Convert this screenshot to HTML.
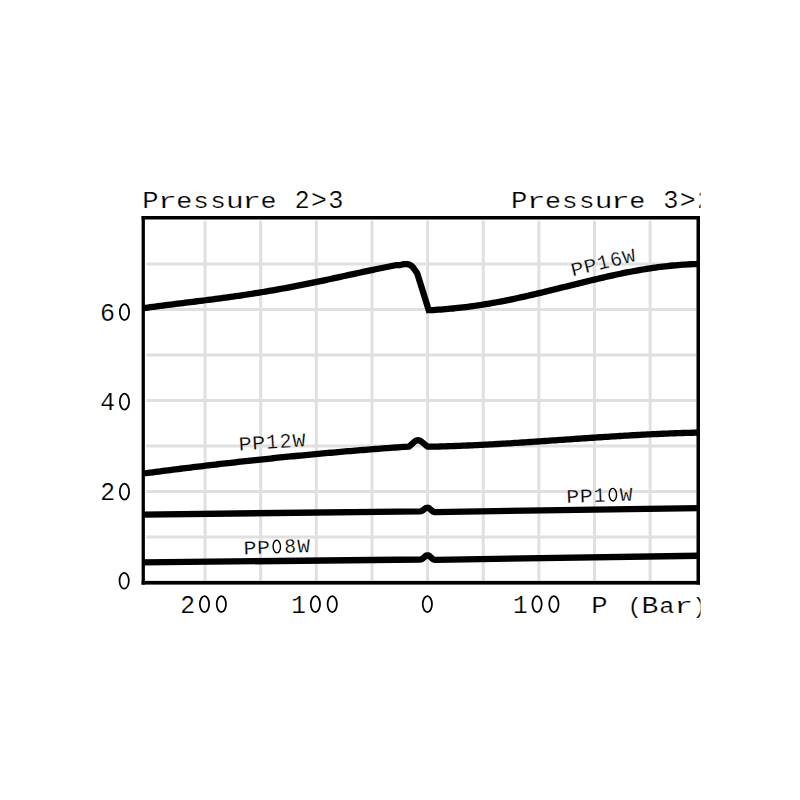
<!DOCTYPE html>
<html><head><meta charset="utf-8"><style>
html,body{margin:0;padding:0;background:#fff;width:800px;height:800px;overflow:hidden}
svg{display:block}
text{font-family:"Liberation Mono",monospace;fill:#000;stroke:#fff;stroke-width:0.25px;white-space:pre}
</style></head><body>
<svg width="800" height="800" viewBox="0 0 800 800">
<defs>
<clipPath id="clipR"><rect x="0" y="0" width="700.5" height="800"/></clipPath>
<clipPath id="clipF"><rect x="143.25" y="217.75" width="555.00" height="364.90"/></clipPath>
</defs>
<rect width="800" height="800" fill="#fff"/>
<g stroke="#e0e0e0" stroke-width="3">
<line x1="205.04" y1="220.75" x2="205.04" y2="580.65"/>
<line x1="260.68" y1="220.75" x2="260.68" y2="580.65"/>
<line x1="316.31" y1="220.75" x2="316.31" y2="580.65"/>
<line x1="371.95" y1="220.75" x2="371.95" y2="580.65"/>
<line x1="427.59" y1="220.75" x2="427.59" y2="580.65"/>
<line x1="483.23" y1="220.75" x2="483.23" y2="580.65"/>
<line x1="538.86" y1="220.75" x2="538.86" y2="580.65"/>
<line x1="594.50" y1="220.75" x2="594.50" y2="580.65"/>
<line x1="650.14" y1="220.75" x2="650.14" y2="580.65"/>
<line x1="146.25" y1="264.00" x2="696.25" y2="264.00"/>
<line x1="146.25" y1="309.48" x2="696.25" y2="309.48"/>
<line x1="146.25" y1="354.96" x2="696.25" y2="354.96"/>
<line x1="146.25" y1="400.44" x2="696.25" y2="400.44"/>
<line x1="146.25" y1="445.92" x2="696.25" y2="445.92"/>
<line x1="146.25" y1="491.40" x2="696.25" y2="491.40"/>
<line x1="146.25" y1="536.88" x2="696.25" y2="536.88"/>
</g>
<g clip-path="url(#clipF)" fill="none" stroke="#000" stroke-width="6.3" stroke-linejoin="round">
<path d="M138.00,309.00 L140.50,308.63 L143.00,308.26 L145.50,307.90 L148.00,307.55 L150.50,307.20 L153.00,306.86 L155.50,306.52 L158.00,306.19 L160.50,305.86 L163.00,305.54 L165.50,305.22 L168.00,304.90 L170.50,304.58 L173.00,304.27 L175.50,303.96 L178.00,303.65 L180.50,303.34 L183.00,303.04 L185.50,302.73 L188.00,302.42 L190.50,302.12 L193.00,301.81 L195.50,301.50 L198.00,301.19 L200.50,300.88 L203.00,300.57 L205.50,300.25 L208.00,299.94 L210.50,299.62 L213.00,299.29 L215.50,298.97 L218.00,298.64 L220.50,298.31 L223.00,297.97 L225.50,297.63 L228.00,297.29 L230.50,296.94 L233.00,296.59 L235.50,296.23 L238.00,295.87 L240.50,295.51 L243.00,295.14 L245.50,294.76 L248.00,294.38 L250.50,293.99 L253.00,293.60 L255.50,293.21 L258.00,292.81 L260.50,292.40 L263.00,291.99 L265.50,291.57 L268.00,291.15 L270.50,290.72 L273.00,290.29 L275.50,289.85 L278.00,289.40 L280.50,288.95 L283.00,288.50 L285.50,288.04 L288.00,287.57 L290.50,287.10 L293.00,286.63 L295.50,286.15 L298.00,285.66 L300.50,285.17 L303.00,284.68 L305.50,284.18 L308.00,283.67 L310.50,283.17 L313.00,282.65 L315.50,282.14 L318.00,281.62 L320.50,281.10 L323.00,280.57 L325.50,280.05 L328.00,279.51 L330.50,278.98 L333.00,278.45 L335.50,277.91 L338.00,277.37 L340.50,276.83 L343.00,276.29 L345.50,275.74 L348.00,275.20 L350.50,274.66 L353.00,274.11 L355.50,273.57 L358.00,273.03 L360.50,272.49 L363.00,271.95 L365.50,271.41 L368.00,270.88 L370.50,270.34 L373.00,269.81 L375.50,269.29 L378.00,268.77 L380.50,268.25 L383.00,267.74 L385.50,267.23 L388.00,266.73 L390.50,266.23 L393.00,265.75 L395.50,265.26 L396.00,265.17 L396.46,265.15 L397.06,265.14 L397.75,265.13 L398.50,265.11 L399.26,265.07 L400.00,265.00 L400.73,264.88 L401.50,264.71 L402.28,264.53 L403.06,264.35 L403.80,264.19 L404.50,264.10 L405.15,264.06 L405.78,264.06 L406.38,264.08 L406.94,264.13 L407.49,264.21 L408.00,264.30 L408.47,264.41 L408.91,264.53 L409.31,264.68 L409.70,264.86 L410.09,265.06 L410.50,265.30 L410.92,265.57 L411.34,265.88 L411.76,266.21 L412.18,266.58 L412.59,266.97 L413.00,267.40 L413.39,267.86 L413.78,268.36 L414.16,268.89 L414.54,269.44 L414.92,270.01 L415.30,270.60 L415.67,271.13 L416.03,271.59 L416.38,272.06 L416.75,272.65 L417.15,273.43 L417.60,274.50 L428.70,310.00 L433.00,310.03 L435.50,309.88 L438.00,309.72 L440.50,309.55 L443.00,309.36 L445.50,309.16 L448.00,308.95 L450.50,308.73 L453.00,308.49 L455.50,308.24 L458.00,307.97 L460.50,307.69 L463.00,307.40 L465.50,307.10 L468.00,306.78 L470.50,306.45 L473.00,306.11 L475.50,305.75 L478.00,305.39 L480.50,305.01 L483.00,304.62 L485.50,304.21 L488.00,303.80 L490.50,303.37 L493.00,302.93 L495.50,302.48 L498.00,302.02 L500.50,301.55 L503.00,301.07 L505.50,300.58 L508.00,300.08 L510.50,299.57 L513.00,299.05 L515.50,298.52 L518.00,297.98 L520.50,297.44 L523.00,296.88 L525.50,296.32 L528.00,295.76 L530.50,295.18 L533.00,294.61 L535.50,294.02 L538.00,293.43 L540.50,292.83 L543.00,292.23 L545.50,291.63 L548.00,291.02 L550.50,290.41 L553.00,289.79 L555.50,289.17 L558.00,288.55 L560.50,287.93 L563.00,287.31 L565.50,286.69 L568.00,286.07 L570.50,285.44 L573.00,284.82 L575.50,284.20 L578.00,283.58 L580.50,282.96 L583.00,282.35 L585.50,281.73 L588.00,281.12 L590.50,280.52 L593.00,279.92 L595.50,279.32 L598.00,278.73 L600.50,278.15 L603.00,277.57 L605.50,277.00 L608.00,276.43 L610.50,275.87 L613.00,275.32 L615.50,274.78 L618.00,274.25 L620.50,273.72 L623.00,273.21 L625.50,272.70 L628.00,272.21 L630.50,271.73 L633.00,271.25 L635.50,270.79 L638.00,270.35 L640.50,269.91 L643.00,269.49 L645.50,269.07 L648.00,268.68 L650.50,268.29 L653.00,267.92 L655.50,267.57 L658.00,267.23 L660.50,266.90 L663.00,266.59 L665.50,266.30 L668.00,266.02 L670.50,265.75 L673.00,265.51 L675.50,265.28 L678.00,265.06 L680.50,264.86 L683.00,264.68 L685.50,264.52 L688.00,264.37 L690.50,264.25 L693.00,264.14 L695.50,264.04 L698.00,263.97 L700.50,263.91 L702.00,263.88" stroke-linejoin="miter"/>
<path d="M138.00,474.26 L140.50,473.92 L143.00,473.59 L145.50,473.25 L148.00,472.92 L150.50,472.59 L153.00,472.26 L155.50,471.94 L158.00,471.61 L160.50,471.29 L163.00,470.96 L165.50,470.64 L168.00,470.32 L170.50,470.01 L173.00,469.69 L175.50,469.37 L178.00,469.06 L180.50,468.75 L183.00,468.44 L185.50,468.13 L188.00,467.82 L190.50,467.51 L193.00,467.21 L195.50,466.91 L198.00,466.61 L200.50,466.31 L203.00,466.01 L205.50,465.71 L208.00,465.41 L210.50,465.12 L213.00,464.83 L215.50,464.54 L218.00,464.25 L220.50,463.96 L223.00,463.67 L225.50,463.39 L228.00,463.10 L230.50,462.82 L233.00,462.54 L235.50,462.26 L238.00,461.98 L240.50,461.71 L243.00,461.43 L245.50,461.16 L248.00,460.89 L250.50,460.61 L253.00,460.35 L255.50,460.08 L258.00,459.81 L260.50,459.55 L263.00,459.29 L265.50,459.02 L268.00,458.76 L270.50,458.51 L273.00,458.25 L275.50,457.99 L278.00,457.74 L280.50,457.49 L283.00,457.24 L285.50,456.99 L288.00,456.74 L290.50,456.49 L293.00,456.25 L295.50,456.00 L298.00,455.76 L300.50,455.52 L303.00,455.28 L305.50,455.04 L308.00,454.81 L310.50,454.57 L313.00,454.34 L315.50,454.11 L318.00,453.88 L320.50,453.65 L323.00,453.42 L325.50,453.20 L328.00,452.97 L330.50,452.75 L333.00,452.53 L335.50,452.31 L338.00,452.09 L340.50,451.88 L343.00,451.66 L345.50,451.45 L348.00,451.23 L350.50,451.02 L353.00,450.81 L355.50,450.61 L358.00,450.40 L360.50,450.20 L363.00,449.99 L365.50,449.79 L368.00,449.59 L370.50,449.39 L373.00,449.19 L375.50,449.00 L378.00,448.80 L380.50,448.61 L383.00,448.42 L385.50,448.23 L388.00,448.04 L390.50,447.86 L393.00,447.67 L395.50,447.49 L398.00,447.30 L400.50,447.12 L403.00,446.94 L405.50,446.77 L408.00,446.59 L409.00,446.52 L414.52,441.66 L415.22,441.14 L415.91,440.74 L416.61,440.46 L417.31,440.29 L418.00,440.23 L418.70,440.29 L419.39,440.46 L420.09,440.74 L420.78,441.14 L421.48,441.66 L427.50,446.60 L430.00,446.71 L432.50,446.66 L435.00,446.60 L437.50,446.54 L440.00,446.48 L442.50,446.41 L445.00,446.34 L447.50,446.26 L450.00,446.18 L452.50,446.10 L455.00,446.01 L457.50,445.92 L460.00,445.82 L462.50,445.72 L465.00,445.62 L467.50,445.51 L470.00,445.40 L472.50,445.29 L475.00,445.17 L477.50,445.05 L480.00,444.93 L482.50,444.81 L485.00,444.68 L487.50,444.55 L490.00,444.42 L492.50,444.28 L495.00,444.14 L497.50,444.00 L500.00,443.86 L502.50,443.71 L505.00,443.57 L507.50,443.42 L510.00,443.27 L512.50,443.11 L515.00,442.96 L517.50,442.80 L520.00,442.65 L522.50,442.49 L525.00,442.32 L527.50,442.16 L530.00,442.00 L532.50,441.83 L535.00,441.67 L537.50,441.50 L540.00,441.33 L542.50,441.17 L545.00,441.00 L547.50,440.83 L550.00,440.66 L552.50,440.48 L555.00,440.31 L557.50,440.14 L560.00,439.97 L562.50,439.80 L565.00,439.62 L567.50,439.45 L570.00,439.28 L572.50,439.11 L575.00,438.94 L577.50,438.76 L580.00,438.59 L582.50,438.42 L585.00,438.25 L587.50,438.08 L590.00,437.92 L592.50,437.75 L595.00,437.58 L597.50,437.42 L600.00,437.25 L602.50,437.09 L605.00,436.93 L607.50,436.77 L610.00,436.61 L612.50,436.45 L615.00,436.29 L617.50,436.14 L620.00,435.99 L622.50,435.84 L625.00,435.69 L627.50,435.54 L630.00,435.40 L632.50,435.26 L635.00,435.12 L637.50,434.98 L640.00,434.84 L642.50,434.71 L645.00,434.58 L647.50,434.46 L650.00,434.33 L652.50,434.21 L655.00,434.09 L657.50,433.98 L660.00,433.87 L662.50,433.76 L665.00,433.65 L667.50,433.55 L670.00,433.45 L672.50,433.36 L675.00,433.27 L677.50,433.18 L680.00,433.10 L682.50,433.02 L685.00,432.94 L687.50,432.87 L690.00,432.81 L692.50,432.74 L695.00,432.69 L697.50,432.63 L700.00,432.58 L702.00,432.55"/>
<path d="M138.00,514.60 L420.00,511.32 L420.37,511.30 L420.73,511.25 L421.08,511.18 L421.43,511.08 L421.76,510.95 L422.08,510.79 L422.40,510.61 L422.70,510.40 L425.10,508.60 L425.70,508.21 L426.29,507.94 L426.88,507.78 L427.46,507.75 L428.04,507.83 L428.61,508.03 L429.18,508.35 L429.75,508.79 L432.38,511.11 L432.66,511.34 L432.96,511.54 L433.27,511.71 L433.59,511.85 L433.93,511.95 L434.27,512.03 L434.63,512.07 L435.00,512.08 L702.00,508.00"/>
<path d="M138.00,562.45 L420.00,559.52 L420.37,559.50 L420.73,559.45 L421.07,559.37 L421.41,559.26 L421.73,559.12 L422.04,558.95 L422.34,558.75 L422.63,558.52 L425.23,556.26 L425.80,555.84 L426.37,555.53 L426.93,555.35 L427.50,555.29 L428.06,555.35 L428.62,555.54 L429.19,555.85 L429.75,556.28 L432.67,558.86 L432.96,559.09 L433.26,559.29 L433.57,559.46 L433.89,559.60 L434.23,559.70 L434.57,559.77 L434.93,559.82 L435.30,559.83 L702.00,555.70"/>
</g>
<g fill="#000"><rect x="141.6" y="216" width="558.4" height="3.5"/><rect x="141.6" y="580.9" width="558.4" height="3.7"/><rect x="141.6" y="216" width="3.3" height="368.6"/><rect x="696.5" y="216" width="3.5" height="368.6"/></g>
<g transform="translate(142.10,207.90)" font-size="28.10"><text transform="translate(8.43,0) scale(0.970,0.866)" x="-8.43">P</text><text transform="translate(25.28,0) scale(1.120,0.810)" x="-8.43">r</text><text transform="translate(42.12,0) scale(0.950,0.810)" x="-8.43">e</text><text transform="translate(58.98,0) scale(0.920,0.810)" x="-8.43">s</text><text transform="translate(75.83,0) scale(0.920,0.810)" x="-8.43">s</text><text transform="translate(92.68,0) scale(1.050,0.810)" x="-8.43">u</text><text transform="translate(109.53,0) scale(1.120,0.810)" x="-8.43">r</text><text transform="translate(126.38,0) scale(0.950,0.810)" x="-8.43">e</text><text transform="translate(160.08,0) scale(0.880,0.916)" x="-8.43">2</text><text transform="translate(176.93,0) scale(0.940,0.920)" x="-8.43">&gt;</text><text transform="translate(193.78,0) scale(0.900,0.916)" x="-8.43">3</text></g>
<g clip-path="url(#clipR)"><g transform="translate(510.80,207.90)" font-size="28.10"><text transform="translate(8.43,0) scale(0.970,0.866)" x="-8.43">P</text><text transform="translate(25.28,0) scale(1.120,0.810)" x="-8.43">r</text><text transform="translate(42.12,0) scale(0.950,0.810)" x="-8.43">e</text><text transform="translate(58.98,0) scale(0.920,0.810)" x="-8.43">s</text><text transform="translate(75.83,0) scale(0.920,0.810)" x="-8.43">s</text><text transform="translate(92.68,0) scale(1.050,0.810)" x="-8.43">u</text><text transform="translate(109.53,0) scale(1.120,0.810)" x="-8.43">r</text><text transform="translate(126.38,0) scale(0.950,0.810)" x="-8.43">e</text><text transform="translate(160.08,0) scale(0.900,0.916)" x="-8.43">3</text><text transform="translate(176.93,0) scale(0.940,0.920)" x="-8.43">&gt;</text><text transform="translate(193.78,0) scale(0.880,0.916)" x="-8.43">2</text></g></g>
<g transform="translate(132.90,320.50)" font-size="28.10"><text transform="translate(-25.28,0) scale(0.890,0.916)" x="-8.43">6</text><ellipse cx="-8.43" cy="-8.43" rx="4.64" ry="7.94" fill="none" stroke="#000" stroke-width="1.75"/></g>
<g transform="translate(132.90,410.00)" font-size="28.10"><text transform="translate(-25.28,0) scale(0.880,0.916)" x="-8.43">4</text><ellipse cx="-8.43" cy="-8.43" rx="4.64" ry="7.94" fill="none" stroke="#000" stroke-width="1.75"/></g>
<g transform="translate(132.90,500.00)" font-size="28.10"><text transform="translate(-25.28,0) scale(0.880,0.916)" x="-8.43">2</text><ellipse cx="-8.43" cy="-8.43" rx="4.64" ry="7.94" fill="none" stroke="#000" stroke-width="1.75"/></g>
<g transform="translate(132.60,589.20)" font-size="28.10"><ellipse cx="-8.43" cy="-8.43" rx="4.64" ry="7.94" fill="none" stroke="#000" stroke-width="1.75"/></g>
<g transform="translate(204.50,612.50)" font-size="28.10"><text transform="translate(-16.85,0) scale(0.880,0.916)" x="-8.43">2</text><ellipse cx="0.00" cy="-8.43" rx="4.64" ry="7.94" fill="none" stroke="#000" stroke-width="1.75"/><ellipse cx="16.85" cy="-8.43" rx="4.64" ry="7.94" fill="none" stroke="#000" stroke-width="1.75"/></g>
<g transform="translate(315.40,612.50)" font-size="28.10"><text transform="translate(-16.85,0) scale(0.870,0.916)" x="-8.43">1</text><ellipse cx="0.00" cy="-8.43" rx="4.64" ry="7.94" fill="none" stroke="#000" stroke-width="1.75"/><ellipse cx="16.85" cy="-8.43" rx="4.64" ry="7.94" fill="none" stroke="#000" stroke-width="1.75"/></g>
<g transform="translate(427.35,612.50)" font-size="28.10"><ellipse cx="0.00" cy="-8.43" rx="4.64" ry="7.94" fill="none" stroke="#000" stroke-width="1.75"/></g>
<g transform="translate(537.05,612.50)" font-size="28.10"><text transform="translate(-16.85,0) scale(0.870,0.916)" x="-8.43">1</text><ellipse cx="0.00" cy="-8.43" rx="4.64" ry="7.94" fill="none" stroke="#000" stroke-width="1.75"/><ellipse cx="16.85" cy="-8.43" rx="4.64" ry="7.94" fill="none" stroke="#000" stroke-width="1.75"/></g>
<g clip-path="url(#clipR)"><g transform="translate(590.90,612.50)" font-size="28.10"><text transform="translate(8.43,0) scale(0.970,0.866)" x="-8.43">P</text><text transform="translate(43.81,0) scale(0.850,0.800)" x="-8.43">(</text><text transform="translate(58.98,0) scale(1.000,0.866)" x="-8.43">B</text><text transform="translate(75.83,0) scale(0.900,0.810)" x="-8.43">a</text><text transform="translate(92.68,0) scale(1.120,0.810)" x="-8.43">r</text><text transform="translate(108.40,0) scale(0.850,0.800)" x="-8.43">)</text></g></g>
<g transform="translate(572.30,276.60) rotate(-13.80)" font-size="22.20"><text transform="translate(6.66,0) scale(0.970,0.866)" x="-6.66">P</text><text transform="translate(19.98,0) scale(0.970,0.866)" x="-6.66">P</text><text transform="translate(33.30,0) scale(0.870,0.916)" x="-6.66">1</text><text transform="translate(46.62,0) scale(0.890,0.916)" x="-6.66">6</text><text transform="translate(59.94,0) scale(0.950,0.866)" x="-6.66">W</text></g>
<g transform="translate(238.70,450.40) rotate(-3.50)" font-size="22.50"><text transform="translate(6.75,0) scale(0.970,0.866)" x="-6.75">P</text><text transform="translate(20.25,0) scale(0.970,0.866)" x="-6.75">P</text><text transform="translate(33.75,0) scale(0.870,0.916)" x="-6.75">1</text><text transform="translate(47.25,0) scale(0.880,0.916)" x="-6.75">2</text><text transform="translate(60.75,0) scale(0.950,0.866)" x="-6.75">W</text></g>
<g transform="translate(243.60,554.40) rotate(-2.00)" font-size="22.30"><text transform="translate(6.69,0) scale(0.970,0.866)" x="-6.69">P</text><text transform="translate(20.07,0) scale(0.970,0.866)" x="-6.69">P</text><ellipse cx="33.45" cy="-6.69" rx="3.68" ry="6.30" fill="none" stroke="#000" stroke-width="1.39"/><text transform="translate(46.83,0) scale(0.880,0.916)" x="-6.69">8</text><text transform="translate(60.21,0) scale(0.950,0.866)" x="-6.69">W</text></g>
<g transform="translate(566.30,503.00) rotate(-2.00)" font-size="22.30"><text transform="translate(6.69,0) scale(0.970,0.866)" x="-6.69">P</text><text transform="translate(20.07,0) scale(0.970,0.866)" x="-6.69">P</text><text transform="translate(33.45,0) scale(0.870,0.916)" x="-6.69">1</text><ellipse cx="46.83" cy="-6.69" rx="3.68" ry="6.30" fill="none" stroke="#000" stroke-width="1.39"/><text transform="translate(60.21,0) scale(0.950,0.866)" x="-6.69">W</text></g>
</svg>
</body></html>
